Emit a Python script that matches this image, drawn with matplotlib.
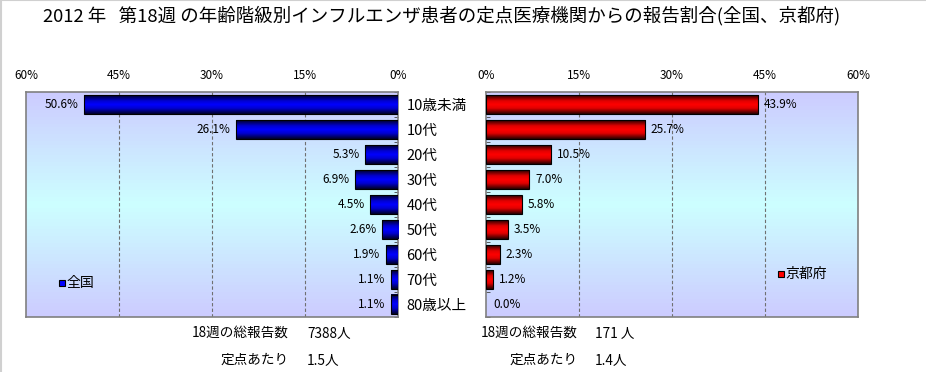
import numpy as np
import matplotlib.pyplot as plt
from matplotlib.colors import LinearSegmentedColormap
from matplotlib.lines import Line2D

plt.rcParams['font.family'] = ['Noto Sans CJK JP', 'DejaVu Sans']

title = "2012 年   第18週 の年齢階級別インフルエンザ患者の定点医療機関からの報告割合(全国、京都府)"
ages = ["10歳未満", "10代", "20代", "30代", "40代", "50代", "60代", "70代", "80歳以上"]
national = [50.6, 26.1, 5.3, 6.9, 4.5, 2.6, 1.9, 1.1, 1.1]
kyoto = [43.9, 25.7, 10.5, 7.0, 5.8, 3.5, 2.3, 1.2, 0.0]
xticks = [0, 15, 30, 45, 60]
nat_total, nat_per = "7388人", "1.5人"
kyo_total, kyo_per = "171 人", "1.4人"

W, H = 926, 372
fig = plt.figure(figsize=(W / 100, H / 100), dpi=100)


def px(x0, y0, w, h):
  return [x0 / W, 1 - (y0 + h) / H, w / W, h / H]


bg = LinearSegmentedColormap.from_list("bg", ["#ccccff", "#ccffff", "#ccccff"])
blue = LinearSegmentedColormap.from_list(
  "b", [(0, "#000028"), (0.3, "#0000d0"), (0.5, "#0000ff"), (0.7, "#0000d0"), (1, "#000028")])
red = LinearSegmentedColormap.from_list(
  "r", [(0, "#280000"), (0.3, "#e00000"), (0.5, "#ff0000"), (0.7, "#e00000"), (1, "#280000")])

grad = np.linspace(0, 1, 64).reshape(-1, 1)
ypos = np.arange(len(ages))
bh = 0.76


def setup(ax, vals, cmap, side):
  ax.imshow(grad, extent=[0, 1, 0, 1], transform=ax.transAxes, cmap=bg,
            aspect="auto", zorder=0)
  for i, v in enumerate(vals):
    if v > 0:
      ax.imshow(grad, extent=[0, v, i + bh / 2, i - bh / 2], cmap=cmap,
                aspect="auto", zorder=3, interpolation="bilinear")
  edges = ["black" if v > 0 else "none" for v in vals]
  ax.barh(ypos, vals, height=bh, color="none", edgecolor=edges, lw=0.8, zorder=4)
  for x in xticks[1:-1]:
    ax.axvline(x, color="#707070", lw=0.8, ls=(0, (3, 2)), zorder=1)
  ax.set_xlim(0, 60)
  ax.set_ylim(len(ages) - 0.5, -0.5)
  ax.xaxis.tick_top()
  ax.set_xticks(xticks)
  ax.set_xticklabels([f"{x}%" for x in xticks], fontsize=8.5)
  ax.tick_params(axis="x", length=0, pad=7)
  ax.set_yticks(ypos)
  ax.set_yticklabels([])
  ax.tick_params(axis="y", which="major", length=0)
  ax.set_yticks(np.arange(len(ages) + 1) - 0.5, minor=True)
  ax.tick_params(axis="y", which="minor", direction="in", length=3, color="#404040")
  for s in ax.spines.values():
    s.set_color("#808080")
    s.set_linewidth(1.2)
  for i, v in enumerate(vals):
    if side == "left":
      ax.annotate(f"{v:.1f}%", (v, i), xytext=(-4, 0), textcoords="offset points",
                  ha="right", va="center", fontsize=8.5, zorder=5)
    else:
      ax.annotate(f"{v:.1f}%", (v, i), xytext=(4 if v > 0 else 5, 0),
                  textcoords="offset points", ha="left", va="center",
                  fontsize=8.5, zorder=5)


ax_l = fig.add_axes(px(26, 92, 372, 225))
setup(ax_l, national, blue, "left")
ax_l.invert_xaxis()
ax_l.yaxis.tick_right()
ax_l.set_yticklabels(ages, fontsize=10.5, ha="left")
ax_l.tick_params(axis="y", which="major", pad=6)

ax_r = fig.add_axes(px(486, 92, 372, 225))
setup(ax_r, kyoto, red, "right")

# legends
ax_l.plot([0.097], [0.151], "s", ms=5, mfc="#0000ff", mec="black", mew=0.8,
          transform=ax_l.transAxes, zorder=5)
ax_l.text(0.11, 0.151, "全国", transform=ax_l.transAxes, va="center", fontsize=10)
ax_r.plot([0.793], [0.19], "s", ms=5, mfc="#ff0000", mec="black", mew=0.8,
          transform=ax_r.transAxes, zorder=5)
ax_r.text(0.806, 0.19, "京都府", transform=ax_r.transAxes, va="center", fontsize=10)

fig.text(442 / W, 1 - 16 / H, title, ha="center", va="center", fontsize=13.3)

for xr, xv, tot, per in [(289, 307, nat_total, nat_per), (578, 595, kyo_total, kyo_per)]:
  fig.text(xr / W, 1 - 333 / H, "18週の総報告数", ha="right", va="center", fontsize=9.8)
  fig.text(xv / W, 1 - 333 / H, tot, ha="left", va="center", fontsize=9.8)
  fig.text(xr / W, 1 - 360 / H, "定点あたり", ha="right", va="center", fontsize=9.8)
  fig.text(xv / W, 1 - 360 / H, per, ha="left", va="center", fontsize=9.8)

# thin frame on top and left edge of the image
fig.add_artist(Line2D([0, 1], [0.999, 0.999], transform=fig.transFigure, color="#d0d0d0", lw=1.5))
fig.add_artist(Line2D([0.001, 0.001], [0, 1], transform=fig.transFigure, color="#d0d0d0", lw=1.5))

fig.savefig("out.png", dpi=100)
